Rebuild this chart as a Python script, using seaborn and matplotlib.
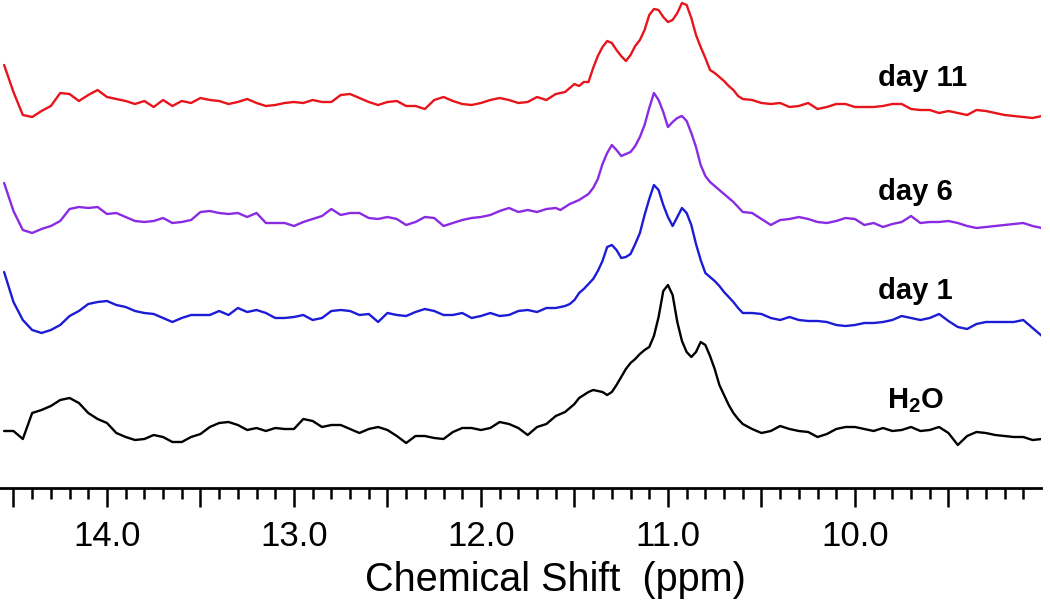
import numpy as np
import pandas as pd
import matplotlib
matplotlib.use("Agg")
import matplotlib.pyplot as plt
import seaborn as sns
from matplotlib.ticker import FixedLocator, FixedFormatter

# chemical shift grid (ppm): 0.05 steps outside the imino region, 0.025 across it
ppm = np.concatenate([
    np.round(np.arange(14.55, 11.63, -0.05), 3),
    np.round(np.arange(11.60, 10.59, -0.025), 3),
    np.round(np.arange(10.55, 8.99, -0.05), 3),
])

# intensities (a.u.), relative to each trace's own baseline
h2o = [1, 1, -7, 19, 22, 26, 32, 34, 29, 19, 13, 9, -1, -5, -8, -7, -3, -5, -10, -10,
       -5, -2, 5, 9, 10, 7, 2, 4, 1, 4, 3, 3, 13, 11, 5, 7, 7, 3, -1, 3,
       5, 2, -4, -11, -4, -4, -6, -7, 0, 4, 4, 2, 4, 10, 8, 4, -3, 5, 8,
       16, 18, 20, 24, 28, 34, 37, 40, 42, 41, 40, 37, 40, 47, 55, 63, 69, 73, 78, 82,
       85, 96, 115, 141, 147, 137, 110, 91, 80, 75, 80, 90, 87, 76, 63, 47, 37, 27, 19, 13, 8,
       3, -1, 1, 6, 3, 1, 0, -5, -2, 3, 5, 5, 3, 1, 4, 1, 2, 5, 1, 2,
       5, -1, -13, -4, 0, -1, -3, -4, -5, -5, -8, -7]
day1 = [43, 13, -5, -15, -18, -15, -10, -1, 4, 11, 13, 14, 10, 8, 4, 2, 1, -3, -7, -3,
        0, 0, 0, 4, 0, 7, 3, 5, 2, -3, -3, -2, 0, -5, -3, 4, 5, 4, 0, 1,
        -7, 2, 0, -1, 3, 6, 4, 0, 0, 2, -3, -1, 2, -1, 0, 4, 5, 3, 7,
        7, 8, 9, 11, 15, 22, 26, 31, 36, 44, 54, 68, 70, 65, 57, 58, 61, 71, 82, 100,
        116, 130, 125, 110, 98, 89, 98, 107, 102, 90, 71, 55, 42, 38, 34, 29, 23, 18, 13, 7, 2,
        2, 1, -3, -5, -2, -5, -6, -6, -7, -10, -11, -10, -8, -8, -7, -5, -1, -3, -5, -3,
        1, -6, -12, -14, -9, -7, -7, -7, -7, -5, -13, -21]
day6 = [35, 7, -12, -15, -11, -8, -3, 9, 11, 10, 11, 4, 5, 1, -3, -4, -3, 0, -5, -4,
        -2, 6, 7, 5, 4, 5, 1, 5, -5, -5, -5, -8, -4, -1, 2, 9, 3, 5, 5, 0,
        -1, 1, -1, -7, -4, 1, 0, -8, -5, -2, 0, 1, 3, 7, 10, 6, 8, 6, 9,
        10, 8, 11, 14, 16, 18, 21, 24, 30, 39, 54, 65, 73, 68, 62, 64, 66, 72, 81, 93,
        110, 125, 118, 106, 91, 96, 100, 102, 97, 85, 71, 53, 42, 36, 32, 28, 24, 20, 16, 11, 6,
        5, -1, -7, -2, -1, 1, -1, -4, -5, -3, 0, -1, -7, -5, -9, -6, -4, 2, -5, -4,
        -4, -3, -5, -8, -10, -9, -8, -7, -6, -5, -8, -10]
day11 = [38, 11, -12, -14, -8, -3, 10, 9, 2, 8, 13, 6, 4, 2, -1, 2, -4, 3, -3, 2,
         0, 5, 3, 2, -1, 1, 4, 0, -3, -2, 0, 1, 0, 3, 1, 1, 8, 9, 5, 1,
         -2, 1, 2, -3, -3, -6, 3, 6, 2, -1, -2, 0, 3, 5, 3, 0, 1, 6, 3,
         9, 10, 11, 15, 19, 17, 21, 21, 35, 47, 56, 62, 60, 53, 47, 42, 48, 57, 63, 73,
         88, 94, 93, 86, 81, 83, 90, 100, 98, 85, 68, 56, 45, 33, 30, 26, 22, 17, 13, 7, 4,
         3, 0, -1, 0, -4, -3, 0, -6, -4, -1, -1, -4, -4, -4, -3, -1, -1, -6, -7, -7,
         -10, -8, -10, -12, -7, -8, -10, -12, -13, -14, -15, -13]

samples = ["H2O", "day 1", "day 6", "day 11"]
offsets = [56, 173, 270, 385]
colors = ["#000000", "#1c1cd6", "#8a2be2", "#e8141c"]
label_text = ["H$_{\\mathbf{2}}$O", "day 1", "day 6", "day 11"]
label_pos = [(9.829, 80), (9.877, 189), (9.877, 288), (9.877, 402)]

frames = []
for name, vals, off in zip(samples, [h2o, day1, day6, day11], offsets):
    assert len(vals) == len(ppm)
    frames.append(pd.DataFrame({"ppm": ppm, "intensity": np.array(vals) + off,
                                "sample": name}))
df = pd.concat(frames, ignore_index=True)

sns.set_style("ticks")
plt.rcParams["font.family"] = ["Liberation Sans", "DejaVu Sans"]
plt.rcParams["mathtext.fontset"] = "custom"
plt.rcParams["mathtext.rm"] = "Liberation Sans"
plt.rcParams["mathtext.bf"] = "Liberation Sans:bold"
for key in ["text.color", "axes.labelcolor", "xtick.color", "axes.edgecolor"]:
    plt.rcParams[key] = "black"

fig = plt.figure(figsize=(10.5, 6.09), dpi=100)
ax = fig.add_axes([0.0, 121 / 609, 1041 / 1050, 488 / 609])

sns.lineplot(data=df, x="ppm", y="intensity", hue="sample", hue_order=samples,
             palette=dict(zip(samples, colors)), estimator=None, sort=False,
             linewidth=1.7, legend=False, ax=ax)

for txt, (x, y) in zip(label_text, label_pos):
    ax.text(x, y, txt, fontsize=21, fontweight="bold", ha="left", va="baseline",
            color="black")

ax.set_xlim(14.572, 9.005)
ax.set_ylim(0, 488)

major = [14.5, 14.0, 13.5, 13.0, 12.5, 12.0, 11.5, 11.0, 10.5, 10.0, 9.5]
major_lbl = ["" if t % 1 else f"{t:.1f}" for t in major]
minor = [round(14.5 - 0.1 * k, 1) for k in range(55)]
minor = [t for t in minor if t not in major]
ax.xaxis.set_major_locator(FixedLocator(major))
ax.xaxis.set_major_formatter(FixedFormatter(major_lbl))
ax.xaxis.set_minor_locator(FixedLocator(minor))
ax.tick_params(axis="x", which="major", length=14, width=1.8, direction="out",
               labelsize=25, pad=9, colors="black")
ax.tick_params(axis="x", which="minor", length=8, width=1.8, direction="out",
               colors="black")
ax.set_yticks([])
for side in ["left", "top", "right"]:
    ax.spines[side].set_visible(False)
ax.spines["bottom"].set_linewidth(2)

ax.set_xlabel("Chemical Shift  (ppm)", fontsize=28.5, color="black")
ax.xaxis.label.set_va("center")
ax.xaxis.set_label_coords(555 / 1041, -(580 - 488) / 488)
ax.set_ylabel("")

fig.savefig("out.png", dpi=100)
